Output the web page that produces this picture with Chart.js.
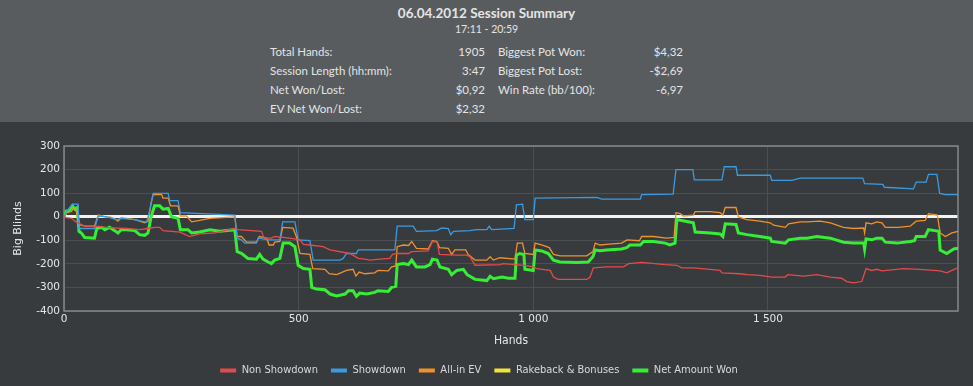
<!DOCTYPE html>
<html>
<head>
<meta charset="utf-8">
<script src="https://cdn.jsdelivr.net/npm/chart.js@4/dist/chart.umd.min.js"></script>
<style>
  html, body { margin: 0; padding: 0; }
  body { width: 973px; height: 386px; background: #383b3e; position: relative; overflow: hidden; font-family: Lato, "Open Sans", sans-serif; }
  #head { position: absolute; left: 0; top: 0; width: 973px; height: 122px; background: #595c5f; color: #e4e4e4; }
  #head .t { position: absolute; left: 0; width: 973px; text-align: center; }
  #title { top: 5px; font-size: 13.5px; font-weight: bold; }
  #sub { top: 23px; font-size: 10.5px; }
  .row { position: absolute; font-size: 11.5px; white-space: nowrap; }
  .lab { left: 270px; }
  .val { text-align: right; }
  #box { position: absolute; left: 0; top: 122px; width: 973px; height: 264px; }
</style>
</head>
<body>
<div id="head">
  <div class="t" id="title">06.04.2012 Session Summary</div>
  <div class="t" id="sub">17:11 - 20:59</div>
</div>
<div id="box"><canvas id="chartSession"></canvas></div>
<script>
/* =============================
   SỐ LIỆU PHIÊN
============================= */

const summaryLeft = [
    ["Total Hands:", "1905"],
    ["Session Length (hh:mm):", "3:47"],
    ["Net Won/Lost:", "$0,92"],
    ["EV Net Won/Lost:", "$2,32"]
];
const summaryRight = [
    ["Biggest Pot Won:", "$4,32"],
    ["Biggest Pot Lost:", "-$2,69"],
    ["Win Rate (bb/100):", "-6,97"]
];

const seriesNames = ["Non Showdown", "Showdown", "All-in EV", "Rakeback & Bonuses", "Net Amount Won"];

const nsHands = [
    0, 5, 16, 23, 30, 37, 44, 69, 90, 112,
    133, 161, 179, 193, 204, 211, 247, 268, 289, 321,
    364, 371, 421, 426, 442, 449, 481, 503, 510, 524,
    552, 567, 609, 627, 641, 652, 673, 694, 700, 709,
    734, 741, 776, 785, 795, 800, 837, 858, 865, 876,
    929, 936, 961, 982, 1000, 1007, 1036, 1043, 1053, 1114,
    1121, 1128, 1156, 1192, 1203, 1231, 1281, 1306, 1316, 1341,
    1377, 1398, 1402, 1441, 1455, 1483, 1508, 1537, 1542, 1576,
    1604, 1633, 1657, 1668, 1682, 1700, 1709, 1721, 1732, 1743,
    1789, 1824, 1867, 1881, 1892, 1905
];
const nsValues = [
    0, -4, -7, -19, -26, -33, -40, -40, -45, -48,
    -50, -55, -50, -45, -45, -59, -65, -84, -73, -69,
    -50, -55, -62, -91, -91, -84, -91, -98, -117, -120,
    -127, -141, -156, -177, -180, -184, -180, -177, -160, -156,
    -156, -148, -145, -105, -108, -160, -163, -163, -170, -206,
    -203, -199, -203, -206, -213, -220, -228, -256, -266, -266,
    -256, -217, -213, -213, -199, -194, -203, -206, -217, -217,
    -223, -228, -238, -242, -246, -249, -256, -256, -246, -252,
    -246, -256, -261, -275, -281, -275, -220, -228, -223, -230,
    -220, -223, -230, -238, -228, -217
];

const sdHands = [
    0, 6, 18, 30, 32, 65, 73, 90, 112, 122,
    151, 165, 176, 181, 190, 222, 225, 243, 248, 364,
    369, 378, 385, 410, 414, 435, 460, 466, 492, 499,
    524, 531, 588, 595, 602, 623, 627, 705, 710, 744,
    751, 794, 805, 819, 824, 830, 865, 879, 901, 906,
    911, 959, 964, 977, 982, 1000, 1004, 1135, 1146, 1228,
    1231, 1298, 1304, 1340, 1343, 1402, 1407, 1432, 1435, 1505,
    1508, 1551, 1569, 1702, 1706, 1745, 1748, 1810, 1816, 1837,
    1842, 1860, 1866, 1878, 1903, 1905
];
const sdValues = [
    0, 24, 53, 53, -50, -50, 3, 0, -12, -7,
    -12, -19, -23, 13, 99, 99, 68, 68, 17, 7,
    -91, -98, -112, -112, -91, -98, -98, -22, -22, -98,
    -101, -184, -184, -177, -156, -156, -141, -141, -40, -40,
    -62, -59, -48, -50, -76, -62, -59, -55, -55, -40,
    -55, -50, 50, 53, -12, -12, 79, 82, 75, 75,
    94, 96, 200, 200, 156, 156, 212, 212, 176, 176,
    154, 154, 164, 164, 140, 137, 125, 118, 147, 147,
    180, 180, 99, 94, 94, 89
];

const evHands = [
    0, 6, 16, 21, 26, 32, 44, 65, 73, 83,
    90, 97, 108, 115, 122, 151, 161, 172, 179, 186,
    190, 208, 211, 222, 227, 243, 248, 261, 272, 289,
    311, 364, 369, 378, 389, 410, 416, 432, 437, 446,
    449, 460, 466, 488, 495, 503, 524, 530, 556, 565,
    581, 602, 616, 622, 629, 641, 662, 669, 691, 698,
    707, 710, 723, 734, 741, 751, 776, 785, 795, 800,
    819, 826, 833, 856, 861, 876, 901, 908, 915, 929,
    961, 966, 977, 982, 1000, 1004, 1021, 1034, 1043, 1057,
    1114, 1127, 1132, 1142, 1156, 1188, 1200, 1226, 1231, 1256,
    1284, 1300, 1304, 1313, 1320, 1341, 1345, 1377, 1398, 1404,
    1409, 1432, 1437, 1455, 1483, 1505, 1512, 1537, 1544, 1569,
    1583, 1611, 1633, 1661, 1682, 1704, 1706, 1709, 1721, 1732,
    1743, 1750, 1778, 1803, 1816, 1835, 1842, 1861, 1867, 1878,
    1892, 1905
];
const evValues = [
    0, 17, 22, 39, 24, -33, -40, -40, 7, 3,
    -4, -1, -9, -19, -4, -12, -19, -26, -19, 60,
    94, 94, 79, 79, 46, 46, 3, 3, -22, -16,
    -7, -1, -84, -84, -108, -108, -84, -91, -120, -120,
    -108, -105, -45, -48, -84, -156, -160, -220, -223, -242,
    -246, -228, -223, -252, -235, -242, -238, -228, -230, -213,
    -209, -127, -120, -122, -105, -134, -137, -102, -105, -131,
    -134, -160, -141, -141, -160, -184, -184, -170, -184, -174,
    -180, -112, -112, -156, -160, -112, -122, -131, -160, -166,
    -166, -148, -112, -120, -117, -112, -98, -102, -84, -84,
    -91, -88, 17, 13, 3, 7, 22, 22, 17, 7,
    39, 39, -1, -12, -19, -26, -36, -45, -30, -22,
    -22, -19, -26, -45, -50, -48, -69, -26, -30, -22,
    -26, -45, -45, -40, -19, -16, 13, 7, -69, -84,
    -69, -62
];

const rbHands = [0, 1905];
const rbValues = [0, 0];

const netHands = [
    0, 5, 12, 18, 23, 28, 32, 37, 44, 65,
    70, 80, 87, 97, 108, 115, 122, 133, 151, 161,
    172, 179, 186, 193, 204, 211, 222, 229, 243, 248,
    264, 272, 289, 311, 332, 364, 369, 378, 392, 410,
    417, 424, 435, 442, 449, 460, 467, 481, 492, 499,
    510, 524, 528, 538, 556, 567, 581, 599, 606, 616,
    623, 630, 645, 662, 669, 691, 698, 707, 710, 723,
    734, 741, 751, 769, 780, 785, 795, 801, 819, 826,
    837, 851, 859, 876, 901, 908, 915, 933, 947, 961,
    964, 971, 980, 982, 1000, 1004, 1018, 1032, 1043, 1057,
    1092, 1117, 1127, 1132, 1142, 1156, 1188, 1199, 1206, 1228,
    1235, 1256, 1281, 1291, 1302, 1306, 1316, 1341, 1345, 1377,
    1398, 1404, 1409, 1432, 1437, 1455, 1483, 1505, 1508, 1537,
    1544, 1569, 1583, 1604, 1633, 1661, 1682, 1704, 1706, 1709,
    1721, 1732, 1743, 1750, 1775, 1803, 1812, 1816, 1835, 1842,
    1856, 1864, 1867, 1881, 1896, 1905
];
const netValues = [
    0, 24, 27, 46, 32, 39, -62, -69, -88, -91,
    -50, -45, -55, -45, -59, -69, -55, -55, -59, -76,
    -79, -69, 3, 46, 46, 32, 35, 0, -7, -55,
    -55, -69, -65, -55, -62, -55, -148, -155, -177, -180,
    -160, -180, -192, -199, -184, -177, -112, -112, -127, -206,
    -220, -223, -300, -307, -310, -328, -336, -328, -314, -314,
    -338, -324, -328, -321, -314, -317, -300, -295, -203, -199,
    -203, -184, -213, -213, -203, -180, -184, -213, -223, -246,
    -228, -223, -246, -266, -271, -253, -263, -256, -261, -261,
    -163, -156, -160, -223, -228, -141, -145, -156, -184, -192,
    -194, -192, -170, -141, -144, -141, -137, -131, -120, -120,
    -105, -105, -112, -120, -112, -12, -16, -26, -65, -69,
    -73, -84, -30, -33, -69, -76, -84, -91, -105, -112,
    -98, -91, -91, -84, -91, -108, -112, -112, -137, -94,
    -98, -91, -91, -108, -112, -105, -102, -84, -84, -55,
    -59, -62, -141, -156, -137, -134
];

const xTicks = [0, 500, 1000, 1500];
const yTicks = [-400, -300, -200, -100, 0, 100, 200, 300];

/* =============================
   BẢNG TÓM TẮT
============================= */

function fillSummary() {
    const head = document.getElementById("head");
    const tops = [45, 64, 83, 102];
    summaryLeft.forEach((r, i) => {
        head.insertAdjacentHTML("beforeend",
            '<div class="row lab" style="top:' + tops[i] + 'px">' + r[0] + '</div>' +
            '<div class="row val" style="top:' + tops[i] + 'px;left:380px;width:105px">' + r[1] + '</div>');
    });
    summaryRight.forEach((r, i) => {
        head.insertAdjacentHTML("beforeend",
            '<div class="row" style="top:' + tops[i] + 'px;left:498px">' + r[0] + '</div>' +
            '<div class="row val" style="top:' + tops[i] + 'px;left:580px;width:103px">' + r[1] + '</div>');
    });
}
fillSummary();

/* =============================
   BIỂU ĐỒ
============================= */

function pts(xs, ys) {
    return xs.map((x, i) => ({ x: x, y: ys[i] }));
}

function formatHands(v) {
    return v.toString().replace(/\B(?=(\d{3})+(?!\d))/g, " ");
}

const frame = {
    id: "frame",
    beforeDatasetsDraw(chart) {
        const a = chart.chartArea, c = chart.ctx;
        c.save();
        c.strokeStyle = "#85888b";
        c.lineWidth = 1.5;
        c.strokeRect(a.left, a.top, a.right - a.left, a.bottom - a.top);
        c.restore();
    }
};

const colors = ["#e34a4a", "#3b9be0", "#f0912c", "#f2e43a", "#36ee36"];
const narrow = "'Liberation Sans Narrow', 'DejaVu Sans Condensed', 'Noto Sans', sans-serif";

new Chart(document.getElementById("chartSession"), {
    type: "line",
    data: {
        datasets: [
            { label: seriesNames[0], data: pts(nsHands, nsValues), borderColor: colors[0], backgroundColor: colors[0], borderWidth: 1.3 },
            { label: seriesNames[1], data: pts(sdHands, sdValues), borderColor: colors[1], backgroundColor: colors[1], borderWidth: 1.3 },
            { label: seriesNames[2], data: pts(evHands, evValues), borderColor: colors[2], backgroundColor: colors[2], borderWidth: 1.3 },
            { label: seriesNames[3], data: pts(rbHands, rbValues), borderColor: colors[3], backgroundColor: colors[3], showLine: false },
            { label: seriesNames[4], data: pts(netHands, netValues), borderColor: colors[4], backgroundColor: colors[4], borderWidth: 3 }
        ]
    },
    options: {
        responsive: true,
        maintainAspectRatio: false,
        animation: false,
        elements: { point: { radius: 0 }, line: { tension: 0 } },
        layout: { padding: { top: 24, left: 0, right: 15, bottom: 0 } },
        plugins: {
            tooltip: { enabled: false },
            legend: {
                position: "bottom",
                labels: {
                    boxWidth: 16,
                    boxHeight: 4,
                    padding: 13,
                    color: "#d8d8d8",
                    font: { family: narrow, size: 11 },
                    generateLabels: chart => chart.data.datasets.map((ds, i) => ({
                        text: ds.label,
                        fillStyle: ds.borderColor,
                        strokeStyle: ds.borderColor,
                        lineWidth: 0,
                        hidden: false,
                        datasetIndex: i,
                        fontColor: "#d8d8d8"
                    }))
                }
            }
        },
        scales: {
            x: {
                type: "linear",
                min: 0,
                max: 1905,
                afterBuildTicks: s => { s.ticks = xTicks.map(v => ({ value: v })); },
                afterFit: s => { s.height = 41; },
                border: { display: false },
                grid: { color: "#4c4f52", drawTicks: false },
                ticks: {
                    padding: 2,
                    color: "#e6e6e6",
                    font: { family: "'DejaVu Sans', sans-serif", size: 10.5 },
                    maxRotation: 0,
                    callback: v => formatHands(v)
                },
                title: {
                    display: true,
                    text: "Hands",
                    color: "#e6e6e6",
                    padding: { top: 0, bottom: 4 },
                    font: { family: narrow, size: 12 }
                }
            },
            y: {
                min: -400,
                max: 300,
                afterBuildTicks: s => { s.ticks = yTicks.map(v => ({ value: v })); },
                afterFit: s => { s.width = 64; },
                border: { display: false },
                grid: {
                    drawTicks: false,
                    color: c => c.tick && c.tick.value === 0 ? "#f2f2f2" : "#4c4f52",
                    lineWidth: c => c.tick && c.tick.value === 0 ? 3 : 1
                },
                ticks: {
                    padding: 4,
                    color: "#e6e6e6",
                    font: { family: "'DejaVu Sans', sans-serif", size: 10.5 }
                },
                title: {
                    display: true,
                    text: "Big Blinds",
                    color: "#e6e6e6",
                    padding: { top: 12, bottom: 4 },
                    font: { family: "'DejaVu Sans', sans-serif", size: 11 }
                }
            }
        }
    },
    plugins: [frame]
});
</script>
</body>
</html>
